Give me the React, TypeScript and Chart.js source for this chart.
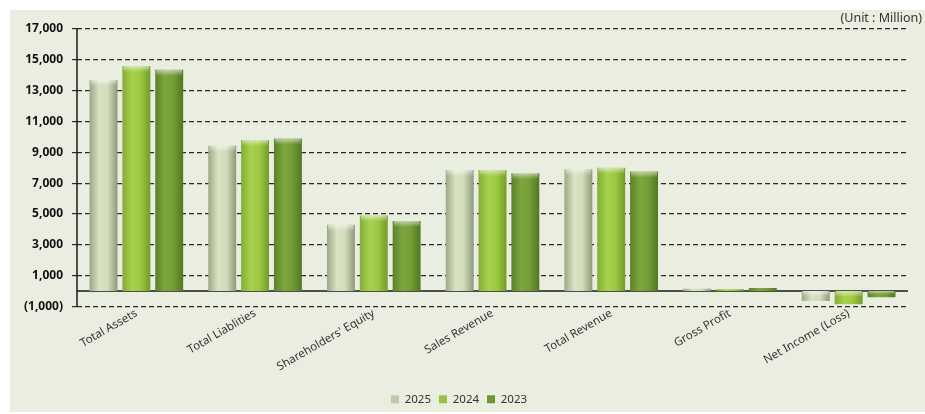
import React, { useEffect, useRef } from "react";
import { Chart, registerables } from "chart.js";

Chart.register(...registerables);

const categories = [
  "Total Assets",
  "Total Liablities",
  "Shareholders' Equity",
  "Sales Revenue",
  "Total Revenue",
  "Gross Profit",
  "Net Income (Loss)",
];
const seriesNames = ["2025", "2024", "2023"];
const values2025 = [13700, 9450, 4300, 7850, 7900, 150, -650];
const values2024 = [14600, 9800, 4900, 7850, 8000, 120, -850];
const values2023 = [14350, 9900, 4550, 7650, 7750, 200, -400];
const yMin = -1000;
const yMax = 17000;
const yStep = 2000;
const unitLabel = "(Unit : Million)";

const solidColors = ["#bfcaa8", "#97c23f", "#6e9832"];
const gradStops: string[][] = [
  ["#9aa785", "#d9e3c4", "#d2dcbb", "#8c9977"],
  ["#82ad34", "#a8d14e", "#9dc942", "#729b29"],
  ["#5b8129", "#7ea63e", "#749d36", "#527623"],
];

const FONT = "'Noto Sans', 'DejaVu Sans', sans-serif";

function fmt(v: number) {
  const s = Math.abs(v).toLocaleString("en-US");
  return v < 0 ? `(${s})` : s;
}

const barStylePlugin = {
  id: "barStyle",
  beforeDatasetsDraw(chart: any) {
    const { ctx, chartArea, scales } = chart;
    const y0 = scales.y.getPixelForValue(0);
    ctx.save();
    ctx.strokeStyle = "#1a1a1a";
    ctx.lineWidth = 1.5;
    ctx.beginPath();
    ctx.moveTo(chartArea.left, y0);
    ctx.lineTo(chartArea.right, y0);
    ctx.moveTo(chartArea.left, chartArea.top);
    ctx.lineTo(chartArea.left, chartArea.bottom);
    ctx.stroke();
    ctx.restore();
    chart.data.datasets.forEach((ds: any, di: number) => {
      const meta = chart.getDatasetMeta(di);
      meta.data.forEach((el: any) => {
        const left = el.x - el.width / 2;
        const g = ctx.createLinearGradient(left, 0, left + el.width, 0);
        const st = gradStops[di];
        g.addColorStop(0, st[0]);
        g.addColorStop(0.35, st[1]);
        g.addColorStop(0.65, st[2]);
        g.addColorStop(1, st[3]);
        el.options.backgroundColor = g;
      });
    });
  },
  afterDatasetsDraw(chart: any) {
    const { ctx } = chart;
    chart.data.datasets.forEach((ds: any, di: number) => {
      const meta = chart.getDatasetMeta(di);
      meta.data.forEach((el: any) => {
        const left = el.x - el.width / 2;
        const top = Math.min(el.y, el.base);
        const h = Math.abs(el.base - el.y);
        if (h < 4) return;
        const hh = Math.min(6, h / 2);
        const g = ctx.createLinearGradient(0, top, 0, top + hh);
        g.addColorStop(0, "rgba(255,255,255,0.55)");
        g.addColorStop(1, "rgba(255,255,255,0)");
        ctx.save();
        ctx.fillStyle = g;
        ctx.fillRect(left + 1, top, el.width - 2, hh);
        ctx.restore();
      });
    });
  },
  afterDraw(chart: any) {
    const { ctx } = chart;
    ctx.save();
    ctx.font = `12.5px ${FONT}`;
    ctx.fillStyle = "#333";
    ctx.textAlign = "right";
    ctx.textBaseline = "middle";
    ctx.fillText(unitLabel, 912, 8);
    ctx.restore();
  },
};

export default function App() {
  const ref = useRef<HTMLCanvasElement>(null);
  useEffect(() => {
    if (!ref.current) return;
    const seriesValues = [values2025, values2024, values2023];
    const chart = new Chart(ref.current, {
      type: "bar",
      data: {
        labels: categories,
        datasets: seriesNames.map((name, i) => ({
          label: name,
          data: seriesValues[i],
          backgroundColor: () => solidColors[i],
          borderWidth: 0,
          categoryPercentage: 0.83,
          barPercentage: 0.85,
        })),
      },
      plugins: [barStylePlugin],
      options: {
        responsive: false,
        animation: false,
        devicePixelRatio: 1,
        layout: { padding: { left: 0, right: 17, top: 19, bottom: -3 } },
        plugins: {
          tooltip: { enabled: false },
          legend: {
            position: "bottom",
            labels: {
              boxWidth: 8,
              boxHeight: 8,
              padding: 8,
              color: "#333",
              font: { family: FONT, size: 11.5 },
              generateLabels: () =>
                seriesNames.map((n, i) => ({
                  text: n,
                  fillStyle: solidColors[i],
                  strokeStyle: solidColors[i],
                  lineWidth: 0,
                  datasetIndex: i,
                  fontColor: "#333",
                })),
            },
          },
        },
        scales: {
          x: {
            grid: { display: false, drawTicks: false, tickLength: 0 },
            border: { display: false },
            ticks: {
              autoSkip: false,
              minRotation: 30,
              maxRotation: 30,
              padding: 0,
              color: "#333",
              font: { family: FONT, size: 11.5 },
            },
            afterFit: (s: any) => {
              s.height = 79;
            },
          },
          y: {
            min: yMin,
            max: yMax,
            border: { display: false, dash: [5, 3] },
            grid: {
              color: "#2a2a2a",
              lineWidth: 1.2,
              tickLength: 5,
              tickColor: "#2a2a2a",
            },
            ticks: {
              stepSize: yStep,
              padding: 9,
              color: "#111",
              font: { family: FONT, size: 12, weight: "bold" },
              callback: (v: any) => fmt(Number(v)),
            },
            afterFit: (s: any) => {
              s.width = 67;
            },
          } as any,
        },
      },
    });
    return () => chart.destroy();
  }, []);
  return (
    <div style={{ position: "absolute", left: 0, top: 0, width: 925, height: 414, background: "#fff" }}>
      <div style={{ position: "absolute", left: 10, top: 10, width: 915, height: 402, background: "#eaeee0" }}>
        <canvas ref={ref} width={915} height={402} style={{ display: "block" }} />
      </div>
    </div>
  );
}
